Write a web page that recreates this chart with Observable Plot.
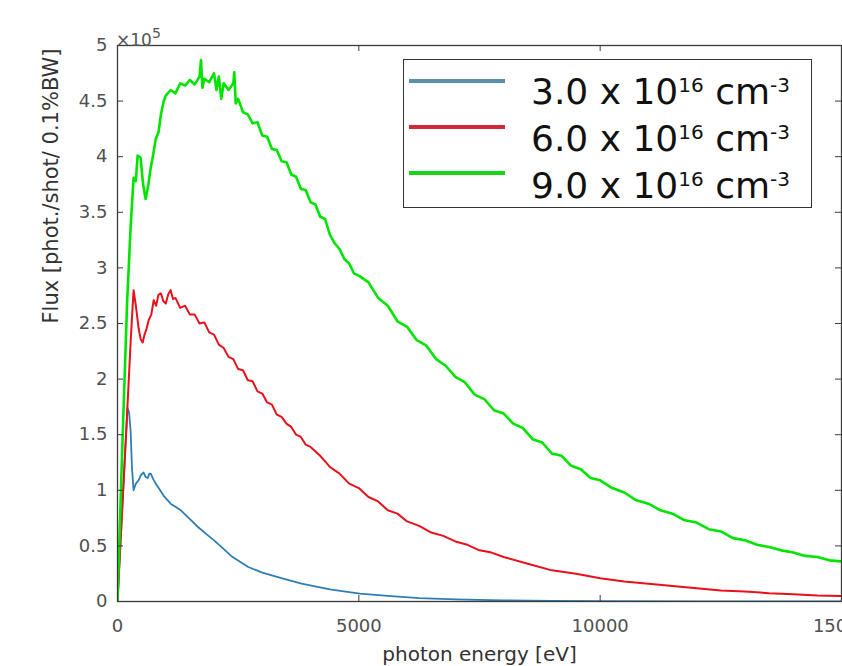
<!DOCTYPE html>
<html>
<head>
<meta charset="utf-8">
<script src="https://cdn.jsdelivr.net/npm/d3@7"></script>
<script src="https://cdn.jsdelivr.net/npm/@observablehq/plot@0.6"></script>
<style>
  body { margin: 0; background: #fff; }
  #wrap { position: relative; width: 842px; height: 666px; overflow: hidden; font-family: "DejaVu Sans", sans-serif; }
  #chart { position: absolute; left: 0; top: 0; }
  #exp { position: absolute; left: 116px; top: 25px; font-size: 17px; line-height: 17px; color: #555; white-space: nowrap; }
  #exp span { font-size: 14px; vertical-align: 8px; }
  #legend { position: absolute; left: 403px; top: 59px; width: 407px; height: 147px; border: 1.5px solid #333; background: #fff; box-sizing: content-box; }
  .lline { position: absolute; left: 5px; width: 96px; height: 4px; }
  .ltext { position: absolute; left: 127px; font-size: 36px; line-height: 36px; color: #111; white-space: nowrap; }
  .ltext span { font-size: 20px; vertical-align: 12px; }
</style>
</head>
<body>
<div id="wrap">
  <div id="chart"></div>
  <div id="exp"></div>
  <div id="legend"></div>
</div>
<script>
// ---- data (flux in units of 1e5 phot./shot/0.1%BW, energy in eV) ----
const blueEnergy = [0,100,160,208,240,271,300,333,380,438,490,542,580,625,660,688,740,792,870,958,1100,1313,1500,1667,1830,2000,2180,2354,2530,2708,3000,3396,3813,4400,5021,5600,6250,7000,8000,9000,10000,12000,15000];
const blueFlux   = [0,0.85,1.35,1.74,1.70,1.54,1.20,1.00,1.06,1.09,1.14,1.16,1.12,1.11,1.15,1.15,1.10,1.06,1.01,0.95,0.88,0.82,0.74,0.67,0.61,0.55,0.48,0.41,0.36,0.31,0.26,0.21,0.16,0.11,0.07,0.05,0.03,0.02,0.01,0.005,0.003,0.001,0];

const redEnergy = [0,100,200,280,333,380,440,480,521,560,600,646,700,750,800,850,900,950,1000,1050,1100,1150,1200,1300,1400,1500,1600,1700,1800,1900,2000,2100,2200,2300,2400,2500,2600,2700,2800,2900,3000,3100,3200,3300,3400,3500,3600,3700,3800,3900,4000,4200,4400,4600,4800,5000,5200,5400,5600,5800,6000,6250,6500,6750,7000,7250,7500,7750,8000,8500,9000,9500,10000,10500,11000,11500,12000,12500,13000,13500,14000,14500,15000];
const redFlux   = [0,0.85,1.70,2.40,2.80,2.66,2.45,2.36,2.33,2.40,2.45,2.53,2.58,2.71,2.66,2.76,2.77,2.70,2.68,2.76,2.80,2.72,2.73,2.64,2.66,2.58,2.58,2.50,2.51,2.42,2.40,2.31,2.28,2.20,2.18,2.09,2.08,1.99,1.98,1.89,1.87,1.79,1.77,1.68,1.66,1.60,1.57,1.50,1.48,1.41,1.39,1.31,1.21,1.15,1.06,1.02,0.94,0.90,0.82,0.79,0.72,0.68,0.62,0.59,0.54,0.51,0.46,0.44,0.40,0.34,0.28,0.25,0.21,0.18,0.16,0.14,0.12,0.10,0.09,0.075,0.065,0.055,0.05];

const greenEnergy = [0,100,200,271,333,380,417,479,530,583,640,688,740,792,850,900,958,1000,1100,1200,1300,1400,1500,1600,1700,1730,1760,1800,1900,2000,2050,2100,2150,2200,2300,2400,2420,2450,2500,2600,2700,2800,2900,3000,3100,3200,3300,3400,3500,3600,3700,3800,3900,4000,4100,4200,4300,4400,4500,4600,4700,4800,4900,5000,5200,5400,5600,5800,6000,6200,6400,6600,6800,7000,7200,7400,7600,7800,8000,8200,8400,8600,8800,9000,9200,9400,9600,9800,10000,10250,10500,10750,11000,11250,11500,11750,12000,12250,12500,12750,13000,13250,13500,13750,14000,14250,14500,14750,15000];
const greenFlux   = [0,1.40,2.70,3.36,3.81,3.78,4.01,3.99,3.75,3.62,3.75,3.90,4.02,4.16,4.22,4.38,4.50,4.55,4.60,4.57,4.66,4.64,4.69,4.65,4.72,4.87,4.62,4.70,4.67,4.75,4.60,4.72,4.52,4.66,4.60,4.66,4.76,4.48,4.52,4.40,4.38,4.30,4.31,4.19,4.18,4.07,4.06,3.96,3.95,3.84,3.82,3.71,3.70,3.59,3.57,3.46,3.44,3.30,3.22,3.17,3.08,3.04,2.95,2.93,2.87,2.73,2.66,2.52,2.47,2.35,2.30,2.18,2.12,2.02,1.97,1.86,1.82,1.72,1.69,1.60,1.56,1.46,1.43,1.33,1.31,1.22,1.19,1.11,1.09,1.02,0.98,0.91,0.88,0.82,0.79,0.73,0.71,0.65,0.63,0.57,0.55,0.51,0.49,0.46,0.44,0.41,0.40,0.37,0.36];

const seriesNames   = ["3.0", "6.0", "9.0"];
const xTicks = [0, 5000, 10000, 15000];
const yTicks = [0, 0.5, 1, 1.5, 2, 2.5, 3, 3.5, 4, 4.5, 5];
const xLabel = "photon energy [eV]";
const yLabel = "Flux [phot./shot/ 0.1%BW]";

// ---- build table ----
const energies = [blueEnergy, redEnergy, greenEnergy];
const fluxes = [blueFlux, redFlux, greenFlux];
const rows = seriesNames.flatMap((s, k) => energies[k].map((e, i) => ({series: s, energy: e, flux: fluxes[k][i]})));

const curveColor = {"3.0": "#2e7eb3", "6.0": "#e8101a", "9.0": "#00e400"};
const curveWidth = {"3.0": 1.8, "6.0": 2.0, "9.0": 2.6};
const legendColor = {"3.0": "#5a8fab", "6.0": "#d42a38", "9.0": "#18d418"};

const W = 842, H = 666, mL = 117, mR = 1, mT = 45, mB = 65;
const fw = W - mL - mR, fh = H - mT - mB, tk = 6;

const chart = Plot.plot({
  width: W, height: H,
  marginLeft: mL, marginRight: mR, marginTop: mT, marginBottom: mB,
  style: {fontFamily: "DejaVu Sans", background: "transparent"},
  x: {domain: [0, 15000]},
  y: {domain: [0, 5]},
  marks: [
    ...seriesNames.map(s => Plot.line(rows.filter(d => d.series === s), {
      x: "energy", y: "flux", stroke: curveColor[s], strokeWidth: curveWidth[s], clip: true
    })),
    Plot.frame({stroke: "#3a3a3a", strokeWidth: 1.3}),
    Plot.tickY(yTicks, {y: d => d, insetRight: fw - tk, stroke: "#3a3a3a"}),
    Plot.tickY(yTicks, {y: d => d, insetLeft: fw - tk, stroke: "#3a3a3a"}),
    Plot.tickX(xTicks, {x: d => d, insetTop: fh - tk, stroke: "#3a3a3a"}),
    Plot.tickX(xTicks, {x: d => d, insetBottom: fh - tk, stroke: "#3a3a3a"}),
    Plot.axisY(yTicks, {tickSize: 0, tickPadding: 10, fontSize: 18, color: "#505050", tickFormat: d => String(d), label: null}),
    Plot.axisX(xTicks, {tickSize: 0, tickPadding: 18, fontSize: 18, color: "#505050", tickFormat: d => String(d), label: null}),
    Plot.text([yLabel], {frameAnchor: "left", text: d => d, rotate: -90, dx: -66, fontSize: 21, fill: "#333", lineAnchor: "middle"}),
    Plot.text([xLabel], {frameAnchor: "bottom", text: d => d, dy: 53, fontSize: 20, fill: "#333", lineAnchor: "middle"})
  ]
});
document.getElementById("chart").appendChild(chart);

// exponent label
document.getElementById("exp").innerHTML = "×10<span>5</span>";

// legend
const legend = document.getElementById("legend");
const rowLine = [21, 67, 113];
const rowTop = [7, 54, 101];
seriesNames.forEach((s, i) => {
  const ln = document.createElement("div");
  ln.className = "lline";
  ln.style.top = (rowLine[i] - 2) + "px";
  ln.style.background = legendColor[s];
  legend.appendChild(ln);
  const tx = document.createElement("div");
  tx.className = "ltext";
  tx.style.top = rowTop[i] + "px";
  tx.innerHTML = s + " x 10<span>16</span> cm<span>-3</span>";
  legend.appendChild(tx);
});
</script>
</body>
</html>
